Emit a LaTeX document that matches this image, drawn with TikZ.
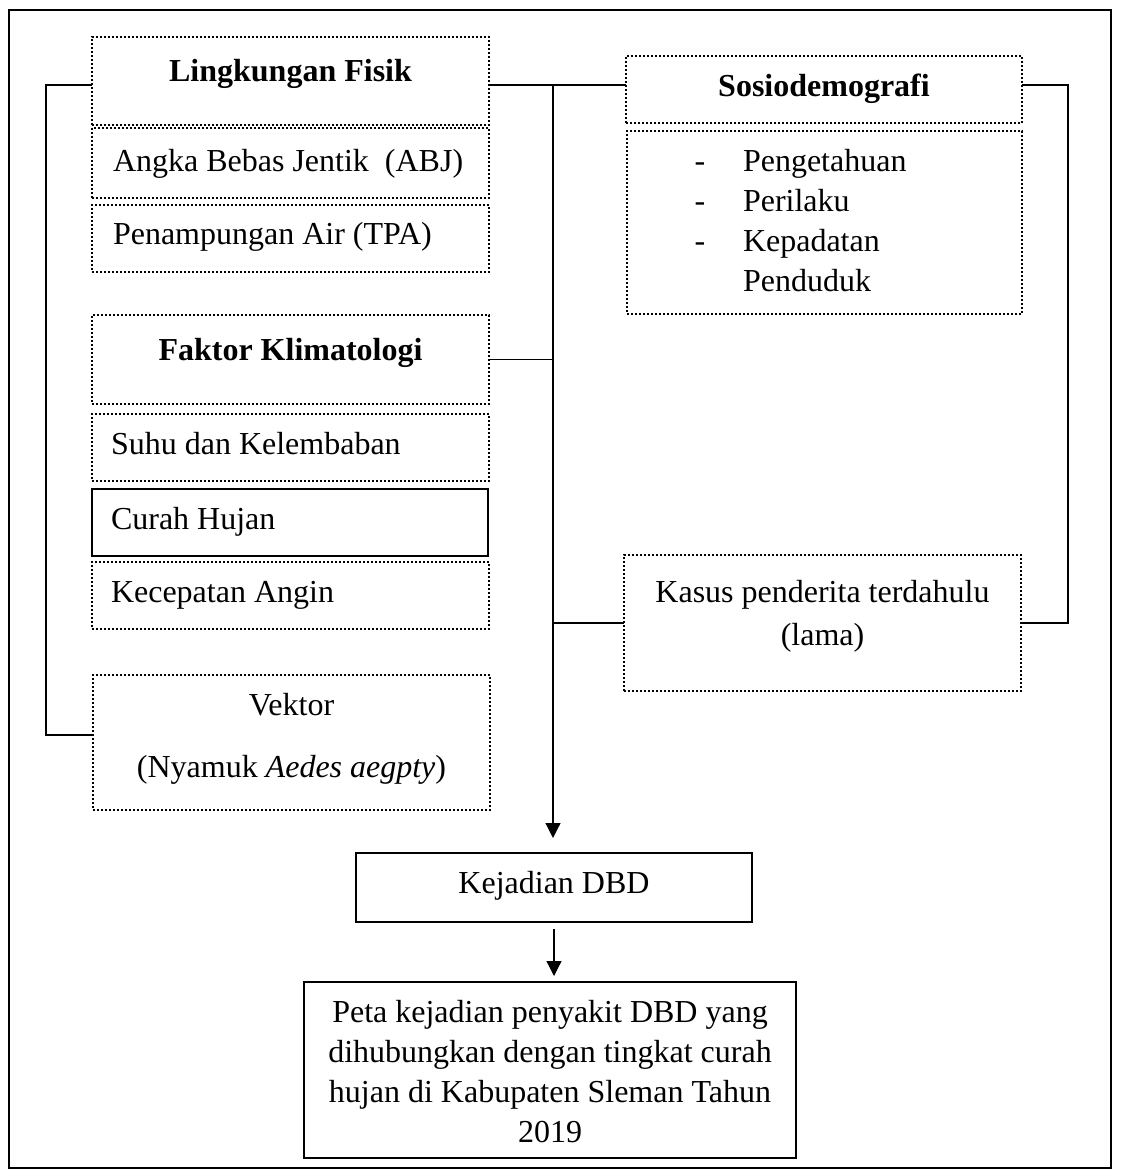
\documentclass[tikz,border=0pt]{standalone}
\usepackage{fontspec}
\setmainfont{Liberation Serif}
\usetikzlibrary{arrows.meta}
\tikzset{
  dotbox/.style={draw, line width=1pt, dash pattern=on 1pt off 1pt, inner sep=0pt, outer sep=0pt},
  solidbox/.style={draw, line width=1.2pt, inner sep=0pt, outer sep=0pt},
  txt/.style={inner sep=0pt, outer sep=0pt, font=\fontsize{16pt}{20pt}\selectfont, anchor=base},
  txtl/.style={txt, anchor=base west},
  btxt/.style={txt, font=\fontsize{16pt}{20pt}\selectfont\bfseries},
  conn/.style={draw, line width=0.6pt},
  arr/.style={conn, -{Triangle[width=7.5pt,length=7.5pt]}}
}
\begin{document}
\begin{tikzpicture}[x=0.5pt,y=-0.5pt]
\useasboundingbox (0,0) rectangle (1120,1176);
\fill[white] (0,0) rectangle (1120,1176);
\draw[line width=1.2pt] (9,10) rectangle (1111,1168);

% left column boxes
\node[dotbox, minimum width=198.5pt, minimum height=44pt]   (LF)  at (290.5,81) {};
\node[dotbox, minimum width=198.5pt, minimum height=35pt]   (ABJ) at (290.5,163) {};
\node[dotbox, minimum width=198.5pt, minimum height=33.5pt] (TPA) at (290.5,238.5) {};
\node[dotbox, minimum width=198.5pt, minimum height=44.5pt] (FK)  at (290.5,359.5) {};
\node[dotbox, minimum width=198.5pt, minimum height=33.5pt] (SK)  at (290.5,447.5) {};
\node[solidbox, minimum width=198pt, minimum height=33.5pt] (CH)  at (290,522.5) {};
\node[dotbox, minimum width=198.5pt, minimum height=33.5pt] (KA)  at (290.5,595.5) {};
\node[dotbox, minimum width=198.5pt, minimum height=67.5pt] (VK)  at (291.5,742.5) {};

% right column boxes
\node[dotbox, minimum width=198pt, minimum height=33.5pt]   (SD)  at (824,89.5) {};
\node[dotbox, minimum width=197.5pt, minimum height=91.5pt] (SI)  at (824.5,222.5) {};
\node[dotbox, minimum width=198.5pt, minimum height=68pt]   (KP)  at (822.5,623) {};

% bottom boxes
\node[solidbox, minimum width=198pt, minimum height=34.5pt] (KD)  at (554,887.5) {};
\node[solidbox, minimum width=246pt, minimum height=88pt]   (PT)  at (550,1070) {};

% texts
\node[btxt] (tLF) at (290.5,82) {Lingkungan Fisik};
\node[txtl] (tABJ) at (113,172) {Angka Bebas Jentik \ (ABJ)};
\node[txtl] (tTPA) at (113,245) {Penampungan Air (TPA)};
\node[btxt] (tFK) at (290.5,360) {Faktor Klimatologi};
\node[txtl] (tSK) at (111,454) {Suhu dan Kelembaban};
\node[txtl] (tCH) at (111,529) {Curah Hujan};
\node[txtl] (tKA) at (111,602) {Kecepatan Angin};
\node[txt] (tVK1) at (291.5,715) {Vektor};
\node[txt] (tVK2) at (291.5,777) {(Nyamuk \textit{Aedes aegpty})};

\node[btxt] (tSD) at (824,97) {Sosiodemografi};
\node[txt] (d1) at (700,172) {-};
\node[txt] (d2) at (700,212) {-};
\node[txt] (d3) at (700,252) {-};
\node[txtl] (tS1) at (743,172) {Pengetahuan};
\node[txtl] (tS2) at (743,212) {Perilaku};
\node[txtl] (tS3) at (743,252) {Kepadatan};
\node[txtl] (tS4) at (743,292) {Penduduk};

\node[txt] (tKP1) at (822.5,602) {Kasus penderita terdahulu};
\node[txt] (tKP2) at (822.5,645) {(lama)};

\node[txt] (tKD) at (554,893) {Kejadian DBD};
\node[txt] (tPT1) at (550,1022) {Peta kejadian penyakit DBD yang};
\node[txt] (tPT2) at (550,1062) {dihubungkan dengan tingkat curah};
\node[txt] (tPT3) at (550,1102) {hujan di Kabupaten Sleman Tahun};
\node[txt] (tPT4) at (550,1142) {2019};

% connectors
\coordinate (jt) at (553,85);
\coordinate (lb1) at (46,85);
\coordinate (lb2) at (46,735);
\coordinate (rb1) at (1068,85);
\coordinate (rb2) at (1068,623);

\draw[conn] (LF.east |- jt) -- (SD.west |- jt);
\draw[conn] (FK.east) -- (FK.east -| jt);
\draw[conn] (KP.west) -- (KP.west -| jt);
\draw[conn] (LF.west |- lb1) -- (lb1) -- (lb2) -- (VK.west |- lb2);
\draw[conn] (SD.east |- rb1) -- (rb1) -- (rb2) -- (KP.east |- rb2);
\draw[arr, shorten >=7.5pt] (jt) -- (jt |- KD.north);
\draw[arr, shorten <=3.5pt, shorten >=3pt] (KD.south) -- (KD.south |- PT.north);
\end{tikzpicture}
\end{document}
